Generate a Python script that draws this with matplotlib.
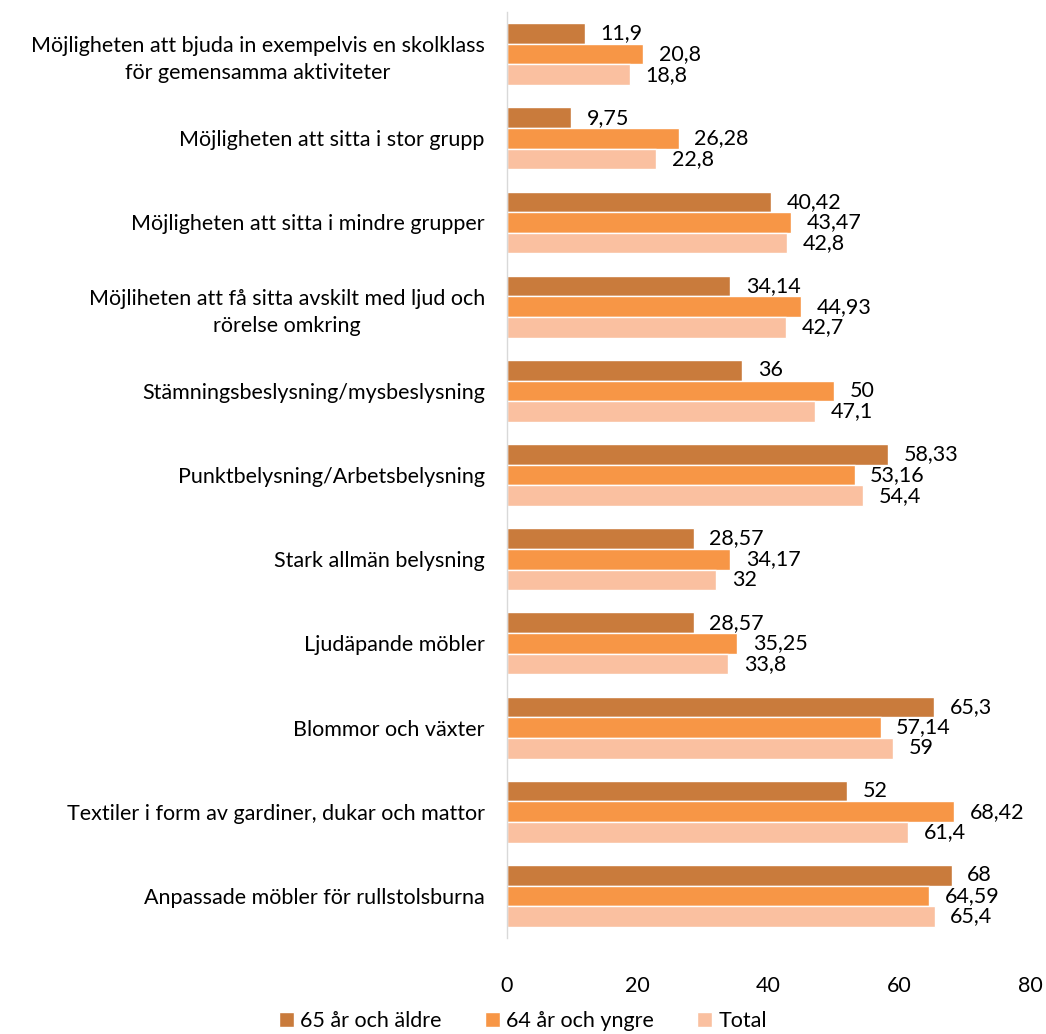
import numpy as np
import matplotlib
matplotlib.use("Agg")
import matplotlib.pyplot as plt

plt.rcParams['font.family'] = ['Lato', 'DejaVu Sans']

# --- DATA ---
categories = [
    "Möjligheten att bjuda in exempelvis en skolklass\nför gemensamma aktiviteter",
    "Möjligheten att sitta i stor grupp",
    "Möjligheten att sitta i mindre grupper",
    "Möjliheten att få sitta avskilt med ljud och\nrörelse omkring",
    "Stämningsbeslysning/mysbeslysning",
    "Punktbelysning/Arbetsbelysning",
    "Stark allmän belysning",
    "Ljudäpande möbler",
    "Blommor och växter",
    "Textiler i form av gardiner, dukar och mattor",
    "Anpassade möbler för rullstolsburna",
]
older = [11.9, 9.75, 40.42, 34.14, 36, 58.33, 28.57, 28.57, 65.3, 52, 68]
younger = [20.8, 26.28, 43.47, 44.93, 50, 53.16, 34.17, 35.25, 57.14, 68.42, 64.59]
total = [18.8, 22.8, 42.8, 42.7, 47.1, 54.4, 32, 33.8, 59, 61.4, 65.4]
older_lbl = ["11,9", "9,75", "40,42", "34,14", "36", "58,33", "28,57", "28,57", "65,3", "52", "68"]
younger_lbl = ["20,8", "26,28", "43,47", "44,93", "50", "53,16", "34,17", "35,25", "57,14", "68,42", "64,59"]
total_lbl = ["18,8", "22,8", "42,8", "42,7", "47,1", "54,4", "32", "33,8", "59", "61,4", "65,4"]
series_names = ["65 år och äldre", "64 år och yngre", "Total"]
colors = ["#C97B3C", "#F79646", "#FAC0A0"]

FS = 15.5

# --- PLOT ---
fig = plt.figure(figsize=(10.46, 10.34), dpi=100)
ax = fig.add_axes([0.4847, 0.0928, 0.5, 0.8956])

y = np.arange(len(categories))
h = 0.245
for i, (vals, lbls) in enumerate([(older, older_lbl), (younger, younger_lbl), (total, total_lbl)]):
    pos = y + (i - 1) * h
    ax.barh(pos, vals, height=h, color=colors[i], edgecolor='white', linewidth=1,
            label=series_names[i])
    for p, v, t in zip(pos, vals, lbls):
        ax.text(v + 2.4, p, t, va='center', ha='left', fontsize=FS, color='#000000')

ax.set_ylim(len(categories) - 0.5, -0.5)
ax.set_xlim(0, 80)
ax.set_xticks([0, 20, 40, 60, 80])
ax.set_yticks(y)
ax.set_yticklabels(categories, fontsize=FS, multialignment='center', linespacing=1.45)
ax.tick_params(axis='both', length=0, labelsize=FS, colors='#000000')
ax.tick_params(axis='x', pad=27)
ax.tick_params(axis='y', pad=16)

for s in ['top', 'right', 'bottom']:
    ax.spines[s].set_visible(False)
ax.spines['left'].set_color('#D9D9D9')
ax.spines['left'].set_linewidth(1)

fig.legend(loc='lower center', bbox_to_anchor=(0.5, -0.016), ncol=3, frameon=False,
           fontsize=FS, handlelength=0.7, handleheight=0.7, handletextpad=0.3,
           columnspacing=2.0)

fig.savefig("out.png", dpi=100)
